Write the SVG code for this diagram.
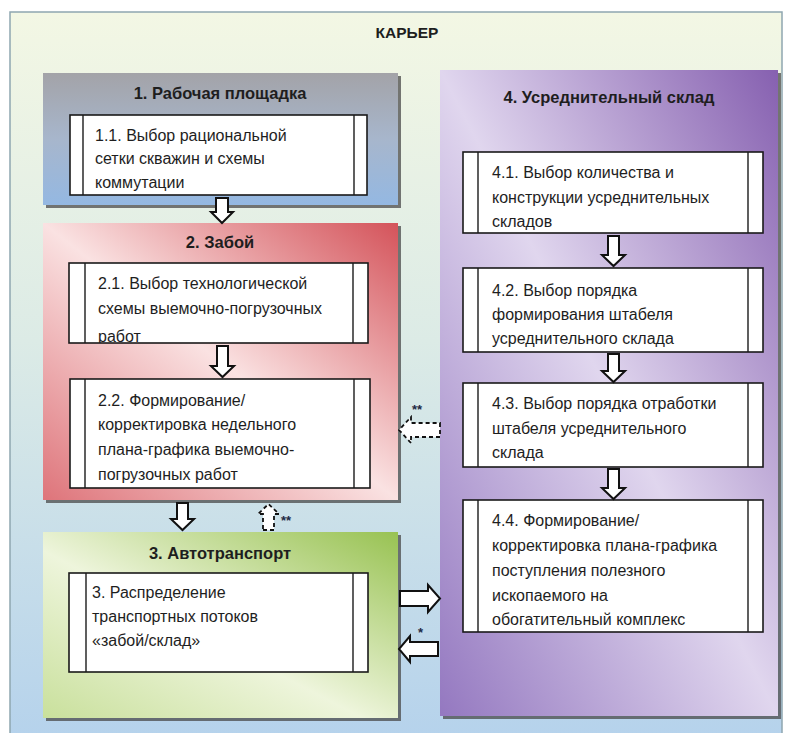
<svg xmlns="http://www.w3.org/2000/svg" width="786" height="733" viewBox="0 0 786 733">
  <style>
    .t { font-family: "Liberation Sans", Arial, sans-serif; font-size: 16px; fill: #1e1e1e; }
    .h { font-family: "Liberation Sans", Arial, sans-serif; font-size: 16.5px; font-weight: bold; fill: #1e1e1e; text-anchor: middle; }
    .proc { fill: #ffffff; stroke: #1a1a1a; stroke-width: 1.6; }
    .bar { stroke: #1a1a1a; stroke-width: 1.4; }
    .blk { fill: #ffffff; stroke: #111; stroke-width: 2; stroke-linejoin: miter; }
    .dash { fill: #ffffff; stroke: #111; stroke-width: 1.8; stroke-dasharray: 4 3; }
    .shadow { fill: #4a4a4a; opacity: 0.75; }
    .mark { font-family: "Liberation Sans", Arial, sans-serif; font-size: 13px; font-weight: bold; fill: #1e2a44; }
  </style>
  <defs>
    <linearGradient id="bg" x1="0" y1="0" x2="0" y2="1">
      <stop offset="0" stop-color="#f3f7e4"/>
      <stop offset="0.45" stop-color="#dcebe6"/>
      <stop offset="1" stop-color="#b5d2ec"/>
    </linearGradient>
    <linearGradient id="g1" x1="0" y1="0" x2="0" y2="1">
      <stop offset="0" stop-color="#a3a3a8"/>
      <stop offset="0.5" stop-color="#a7b6cc"/>
      <stop offset="1" stop-color="#94b8e2"/>
    </linearGradient>
    <linearGradient id="g2" x1="0" y1="1" x2="1" y2="0">
      <stop offset="0" stop-color="#de747a"/>
      <stop offset="0.5" stop-color="#fae2e2"/>
      <stop offset="1" stop-color="#d4535a"/>
    </linearGradient>
    <linearGradient id="g3" x1="0" y1="1" x2="1" y2="0">
      <stop offset="0" stop-color="#c9e09c"/>
      <stop offset="0.45" stop-color="#eef5dc"/>
      <stop offset="1" stop-color="#98c252"/>
    </linearGradient>
    <linearGradient id="g4" x1="0" y1="1" x2="1" y2="0">
      <stop offset="0" stop-color="#9478c0"/>
      <stop offset="0.5" stop-color="#e0d6ee"/>
      <stop offset="1" stop-color="#8660b0"/>
    </linearGradient>
    <clipPath id="c21"><rect x="69" y="263" width="299" height="80"/></clipPath>
  </defs>

  <!-- frame -->
  <g id="frame">
    <rect x="10" y="12" width="772" height="730" fill="url(#bg)" stroke="#8fa6b0" stroke-width="1.5"/>
    <text class="t" x="407" y="38" text-anchor="middle" style="font-size:15.5px;font-weight:bold">КАРЬЕР</text>
  </g>

  <!-- 1. Рабочая площадка -->
  <g id="node1">
    <rect class="shadow" x="46" y="76" width="355" height="132"/>
    <rect x="43" y="73" width="355" height="132" fill="url(#g1)"/>
    <text class="h" x="220" y="99">1. Рабочая площадка</text>
    <g id="node1_1">
      <rect class="proc" x="70" y="115" width="297" height="80"/>
      <line class="bar" x1="83" y1="115" x2="83" y2="195"/>
      <line class="bar" x1="354" y1="115" x2="354" y2="195"/>
      <text class="t" x="95" y="141">1.1. Выбор рациональной</text>
      <text class="t" x="95" y="164">сетки скважин и схемы</text>
      <text class="t" x="95" y="188">коммутации</text>
    </g>
  </g>

  <!-- 2. Забой -->
  <g id="node2">
    <rect class="shadow" x="46" y="226" width="355" height="277"/>
    <rect x="43" y="223" width="355" height="277" fill="url(#g2)"/>
    <text class="h" x="220" y="248">2. Забой</text>
    <g id="node2_1">
      <rect class="proc" x="69" y="263" width="299" height="80"/>
      <line class="bar" x1="85" y1="263" x2="85" y2="343"/>
      <line class="bar" x1="353" y1="263" x2="353" y2="343"/>
      <g clip-path="url(#c21)">
        <text class="t" x="98" y="289">2.1. Выбор технологической</text>
        <text class="t" x="98" y="314">схемы выемочно-погрузочных</text>
        <text class="t" x="98" y="342">работ</text>
      </g>
    </g>
    <g id="node2_2">
      <rect class="proc" x="70" y="379" width="300" height="109"/>
      <line class="bar" x1="85" y1="379" x2="85" y2="488"/>
      <line class="bar" x1="354" y1="379" x2="354" y2="488"/>
      <text class="t" x="98" y="406">2.2. Формирование/</text>
      <text class="t" x="98" y="430">корректировка недельного</text>
      <text class="t" x="98" y="455">плана-графика  выемочно-</text>
      <text class="t" x="98" y="480">погрузочных  работ</text>
    </g>
  </g>

  <!-- 3. Автотранспорт -->
  <g id="node3">
    <rect class="shadow" x="46" y="535" width="355" height="186"/>
    <rect x="43" y="532" width="355" height="186" fill="url(#g3)"/>
    <text class="h" x="220" y="559">3. Автотранспорт</text>
    <g id="node3_1">
      <rect class="proc" x="69" y="573" width="299" height="99"/>
      <line class="bar" x1="86" y1="573" x2="86" y2="672"/>
      <line class="bar" x1="353" y1="573" x2="353" y2="672"/>
      <text class="t" x="92" y="598">3. Распределение</text>
      <text class="t" x="92" y="622">транспортных  потоков</text>
      <text class="t" x="92" y="646">«забой/склад»</text>
    </g>
  </g>

  <!-- 4. Усреднительный склад -->
  <g id="node4">
    <rect class="shadow" x="443" y="73" width="338" height="646"/>
    <rect x="440" y="70" width="338" height="646" fill="url(#g4)"/>
    <text class="h" x="609" y="103">4. Усреднительный склад</text>
    <g id="node4_1">
      <rect class="proc" x="463" y="152" width="300" height="81"/>
      <line class="bar" x1="478" y1="152" x2="478" y2="233"/>
      <line class="bar" x1="748" y1="152" x2="748" y2="233"/>
      <text class="t" x="492" y="178">4.1. Выбор количества и</text>
      <text class="t" x="492" y="203">конструкции усреднительных</text>
      <text class="t" x="492" y="227">складов</text>
    </g>
    <g id="node4_2">
      <rect class="proc" x="463" y="268" width="300" height="84"/>
      <line class="bar" x1="478" y1="268" x2="478" y2="352"/>
      <line class="bar" x1="748" y1="268" x2="748" y2="352"/>
      <text class="t" x="492" y="296">4.2. Выбор порядка</text>
      <text class="t" x="492" y="320">формирования штабеля</text>
      <text class="t" x="492" y="344">усреднительного  склада</text>
    </g>
    <g id="node4_3">
      <rect class="proc" x="463" y="383" width="300" height="84"/>
      <line class="bar" x1="478" y1="383" x2="478" y2="467"/>
      <line class="bar" x1="748" y1="383" x2="748" y2="467"/>
      <text class="t" x="492" y="409">4.3. Выбор порядка отработки</text>
      <text class="t" x="492" y="434">штабеля усреднительного</text>
      <text class="t" x="492" y="458">склада</text>
    </g>
    <g id="node4_4">
      <rect class="proc" x="463" y="500" width="300" height="132"/>
      <line class="bar" x1="478" y1="500" x2="478" y2="632"/>
      <line class="bar" x1="748" y1="500" x2="748" y2="632"/>
      <text class="t" x="492" y="526">4.4. Формирование/</text>
      <text class="t" x="492" y="551">корректировка плана-графика</text>
      <text class="t" x="492" y="576">поступления  полезного</text>
      <text class="t" x="492" y="601">ископаемого на</text>
      <text class="t" x="492" y="625">обогатительный комплекс</text>
    </g>
  </g>

  <!-- connectors: hollow block arrows -->
  <g id="connectors">
    <!-- 1 -> 2 -->
    <path class="blk" d="M216,198 H228 V212 H233 L222,223 L211,212 H216 Z"/>
    <!-- 2.1 -> 2.2 -->
    <path class="blk" d="M217,346 H228 V366 H234 L222.5,377 L211,366 H217 Z"/>
    <!-- 4.1 -> 4.2 -->
    <path class="blk" d="M608,236 H619 V255 H625 L613.5,266 L602,255 H608 Z"/>
    <!-- 4.2 -> 4.3 -->
    <path class="blk" d="M608,354 H619 V371 H625 L613.5,382 L602,371 H608 Z"/>
    <!-- 4.3 -> 4.4 -->
    <path class="blk" d="M608,469 H619 V488 H625 L613.5,499 L602,488 H608 Z"/>
    <!-- 2 -> 3 -->
    <path class="blk" d="M177,503 H188 V519 H194 L182.5,530 L171,519 H177 Z"/>
    <!-- 3 -> 2 (dashed, upward) -->
    <path class="dash" d="M263,530 H274 V514 H279 L268.5,504 L258,514 H263 Z"/>
    <text class="mark" x="281" y="525">**</text>
    <!-- 4 -> 2 (dashed, leftward) -->
    <path class="dash" d="M440,423 V437 H411 V443 L399,430 L411,417 V423 Z"/>
    <text class="mark" x="412" y="414">**</text>
    <!-- 3 -> 4 -->
    <path class="blk" d="M400,591 H428 V585 L440,598.5 L428,612 V606 H400 Z"/>
    <!-- 4 -> 3 -->
    <path class="blk" d="M438,642 V656 H410 V662 L399,649 L410,636 V642 Z"/>
    <text class="mark" x="418" y="637">*</text>
  </g>
</svg>
